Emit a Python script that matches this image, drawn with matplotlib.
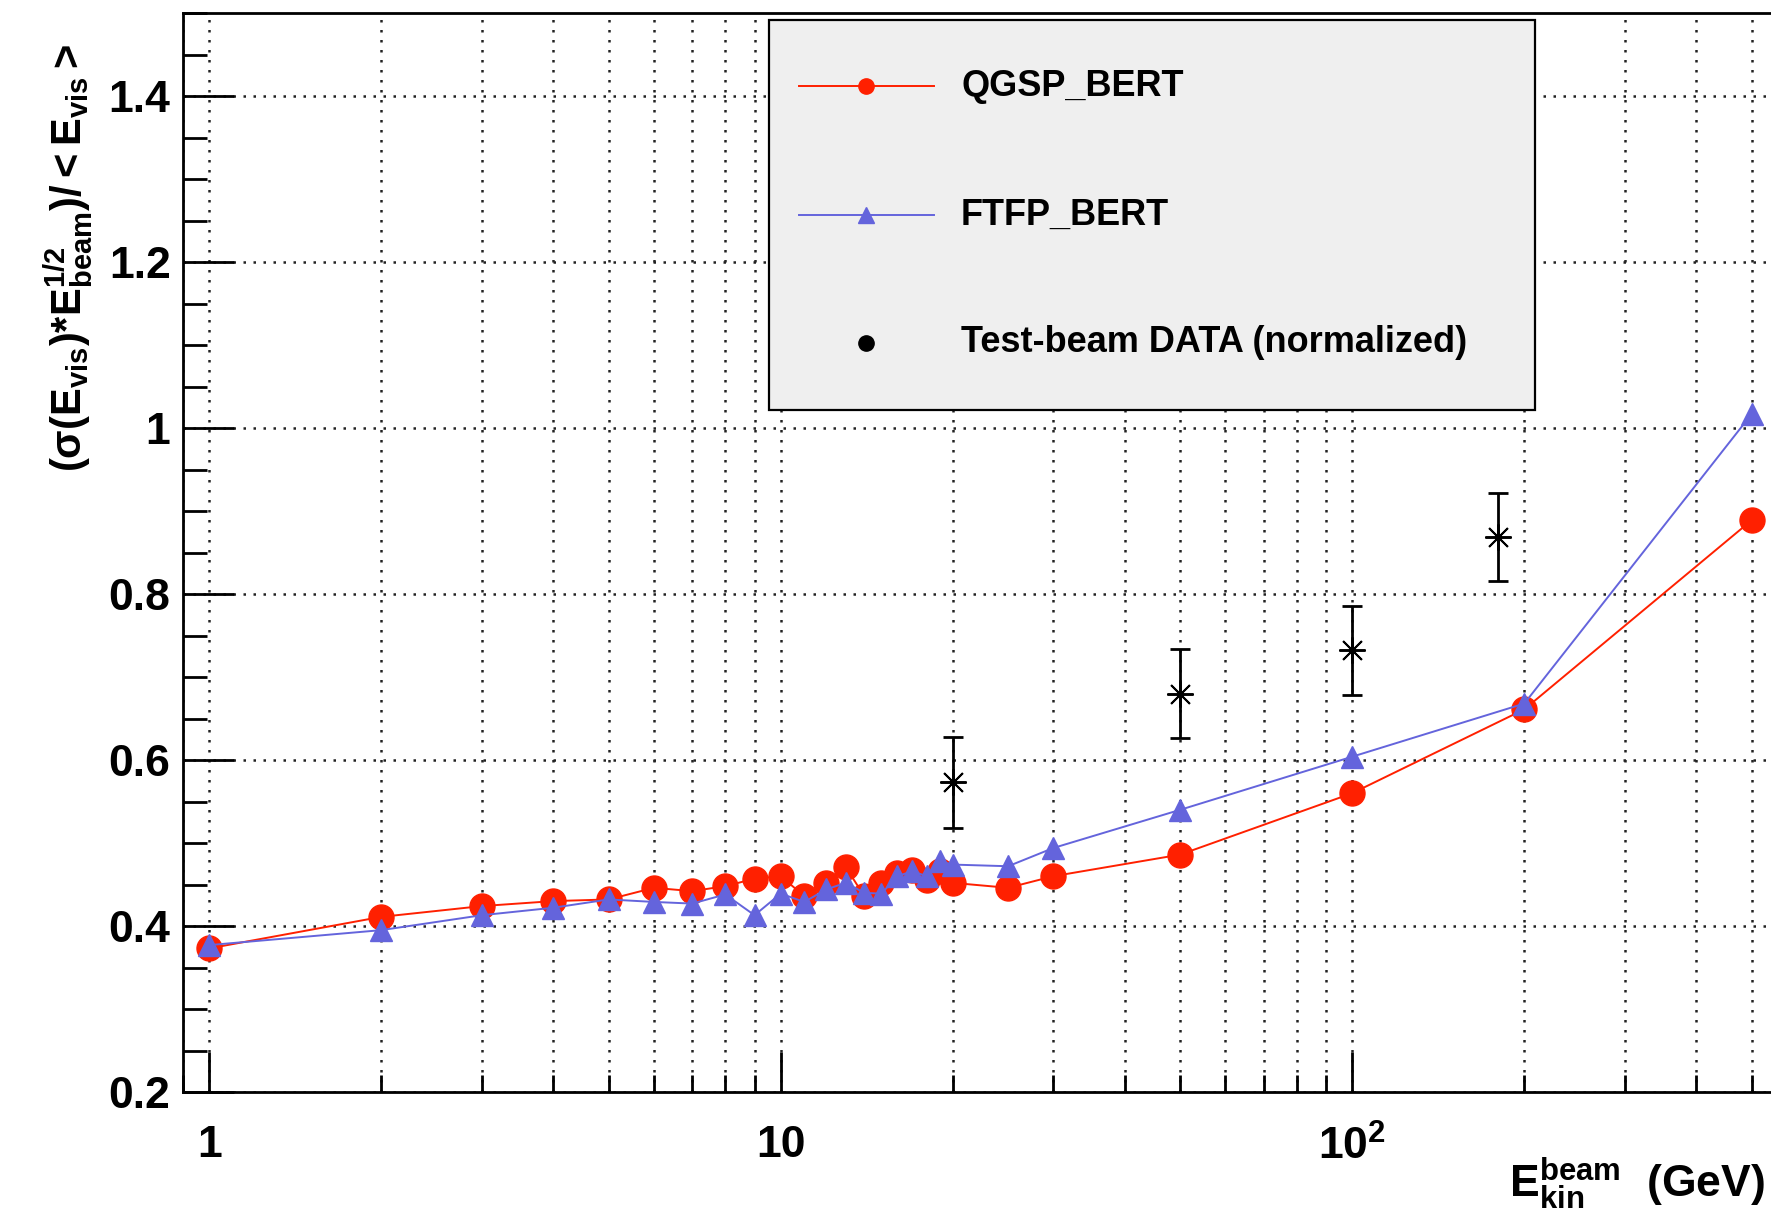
import numpy as np
import matplotlib
matplotlib.use("Agg")
import matplotlib.pyplot as plt
from matplotlib.patches import Rectangle
from matplotlib.lines import Line2D
from matplotlib.ticker import LogLocator, MultipleLocator, NullFormatter

plt.rcParams['font.family'] = ['Liberation Sans', 'DejaVu Sans']
plt.rcParams['font.weight'] = 'bold'
plt.rcParams['mathtext.fontset'] = 'custom'
plt.rcParams['mathtext.rm'] = 'Liberation Sans:bold'
plt.rcParams['mathtext.it'] = 'Liberation Sans:bold'
plt.rcParams['mathtext.bf'] = 'Liberation Sans:bold'
plt.rcParams['mathtext.default'] = 'regular'

# beam kinetic energies (GeV)
energy = [1, 2, 3, 4, 5, 6, 7, 8, 9, 10, 11, 12, 13, 14, 15, 16, 17, 18, 19, 20,
          25, 30, 50, 100, 200, 500]
# resolution * sqrt(E) for the two physics lists
qgsp = [0.373, 0.411, 0.424, 0.430, 0.432, 0.446, 0.442, 0.448, 0.457, 0.460,
        0.436, 0.452, 0.471, 0.436, 0.452, 0.464, 0.468, 0.456, 0.466, 0.452,
        0.446, 0.460, 0.486, 0.560, 0.661, 0.889]
ftfp = [0.377, 0.395, 0.413, 0.422, 0.432, 0.429, 0.427, 0.438, 0.413, 0.439,
        0.429, 0.444, 0.452, 0.440, 0.439, 0.460, 0.466, 0.460, 0.478, 0.474,
        0.472, 0.494, 0.540, 0.604, 0.668, 1.017]
# test-beam data (normalized)
data_e = [20, 50, 100, 180]
data_val = [0.573, 0.680, 0.732, 0.869]
data_err = [0.055, 0.054, 0.054, 0.053]

red = '#ff2000'
blue = '#6464dc'

W, H = 1771, 1215
fig = plt.figure(figsize=(W / 100, H / 100), dpi=100)
ax = fig.add_axes([183 / W, 123 / H, 1614 / W, 1079 / H])

ax.plot(energy, qgsp, color=red, lw=1.4, marker='o', ms=18, mec=red, zorder=3)
ax.plot(energy, ftfp, color=blue, lw=1.4, marker='^', ms=16, mec=blue, zorder=4)
ax.errorbar(data_e, data_val, yerr=data_err, fmt='none', ecolor='black',
            elinewidth=2, capsize=7, capthick=2, zorder=5)
ax.plot(data_e, data_val, ls='none', marker=(8, 2, 0), ms=19, mec='black',
        mew=1.4, zorder=5)

ax.set_xscale('log')
ax.set_xlim(0.9, 600)
ax.set_ylim(0.2, 1.5)
ax.set_xticks([1, 10, 100])
ax.set_xticklabels(['1', '10', '$10^{2}$'])
ax.xaxis.set_minor_locator(LogLocator(base=10, subs=np.arange(2, 10)))
ax.xaxis.set_minor_formatter(NullFormatter())
ax.set_yticks([0.2, 0.4, 0.6, 0.8, 1.0, 1.2, 1.4])
ax.set_yticklabels(['0.2', '0.4', '0.6', '0.8', '1', '1.2', '1.4'])
ax.yaxis.set_minor_locator(MultipleLocator(0.05))

ax.tick_params(axis='y', which='major', direction='in', length=37, width=2,
               pad=9, labelsize=32)
ax.tick_params(axis='y', which='minor', direction='in', length=17, width=2)
ax.tick_params(axis='x', which='major', direction='in', length=29, width=2,
               pad=24, labelsize=32)
ax.tick_params(axis='x', which='minor', direction='in', length=12, width=2)
for s in ax.spines.values():
    s.set_linewidth(2)

grid_kw = dict(color='#222222', linestyle=(0, (1, 3)), linewidth=1.8)
ax.grid(True, which='both', axis='x', **grid_kw)
ax.grid(True, which='major', axis='y', **grid_kw)
ax.set_axisbelow(True)

# axis titles
fig.text(68 / W, 1 - 44 / H,
         r'$(\sigma(E_{vis})$*$E^{1/2}_{beam})/<E_{vis}>$',
         rotation=90, ha='center', va='top', fontsize=30)
fig.text(1765 / W, 18 / H, r'$E^{beam}_{kin}$  (GeV)', ha='right',
         va='baseline', fontsize=32)

# legend box
box = Rectangle((769 / W, 1 - 410 / H), 766 / W, 390 / H, transform=fig.transFigure,
                facecolor='#efefef', edgecolor='black', lw=1.6, zorder=10)
fig.add_artist(box)
rows = [1 - 86 / H, 1 - 215 / H, 1 - 343 / H]
labels = ['QGSP_BERT', 'FTFP_BERT', 'Test-beam DATA (normalized)']
x0, x1, xm, xt = 799 / W, 934 / W, 866 / W, 961 / W
fig.add_artist(Line2D([x0, x1], [rows[0]] * 2, transform=fig.transFigure,
                      color=red, lw=1.4, zorder=11))
fig.add_artist(Line2D([xm], [rows[0]], transform=fig.transFigure, marker='o',
                      ms=11, color=red, zorder=11))
fig.add_artist(Line2D([x0, x1], [rows[1]] * 2, transform=fig.transFigure,
                      color=blue, lw=1.4, zorder=11))
fig.add_artist(Line2D([xm], [rows[1]], transform=fig.transFigure, marker='^',
                      ms=11, color=blue, zorder=11))
fig.add_artist(Line2D([xm], [rows[2]], transform=fig.transFigure, marker='o',
                      ms=11, color='black', zorder=11))
for y, lab in zip(rows, labels):
    fig.text(xt, y, lab, ha='left', va='center', fontsize=26, zorder=12)

fig.savefig('out.png', dpi=100)
